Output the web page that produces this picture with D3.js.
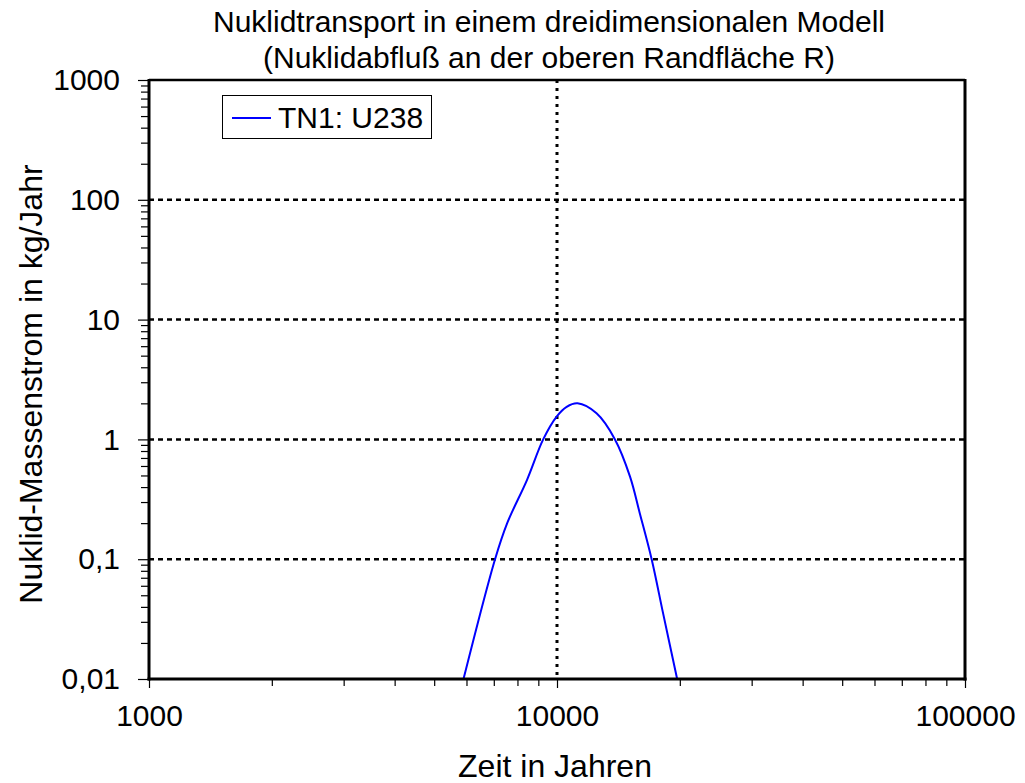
<!DOCTYPE html>
<html>
<head>
<meta charset="utf-8">
<script src="https://cdn.jsdelivr.net/npm/d3@7"></script>
<style>
  html, body { margin: 0; padding: 0; background: #fff; }
  svg { display: block; font-family: "Liberation Sans", Arial, sans-serif; }
</style>
</head>
<body>
<svg id="chart" width="1025" height="783"></svg>
<script>
// Data
const years  = [5900, 7050, 7550, 8440, 9250, 9980, 10560, 11230, 12500, 13870, 15100, 15960, 17060, 18200, 19700];
const values = [0.01, 0.1, 0.2, 0.458, 1.0, 1.55, 1.87, 2.0, 1.65, 1.0, 0.489, 0.241, 0.1, 0.0353, 0.01];
const seriesName = "TN1: U238";
const xTickValues = [1000, 10000, 100000];
const xTickLabels = ["1000", "10000", "100000"];
const yTickValues = [0.01, 0.1, 1, 10, 100, 1000];
const yTickLabels = ["0,01", "0,1", "1", "10", "100", "1000"];
const titleLines = ["Nuklidtransport in einem dreidimensionalen Modell", "(Nuklidabfluß an der oberen Randfläche R)"];
const xTitle = "Zeit in Jahren";
const yTitle = "Nuklid-Massenstrom in kg/Jahr";

const L = 149, R = 965, T = 80, B = 679;
const svg = d3.select("#chart");
const x = d3.scaleLog().domain([1000, 100000]).range([L, R]);
const y = d3.scaleLog().domain([0.01, 1000]).range([B, T]);

// minor ticks
const xMinor = [], yMinor = [];
for (let d = 1000; d < 100000; d *= 10) for (let k = 2; k <= 9; k++) xMinor.push(d * k);
for (let d = 0.01; d < 999; d *= 10) for (let k = 2; k <= 9; k++) yMinor.push(+(d * k).toPrecision(3));

// grid
const grid = svg.append("g");
grid.selectAll("line.h").data(yTickValues.filter(v => v > 0.01 && v < 1000)).join("line")
  .attr("x1", L).attr("x2", R).attr("y1", d => y(d)).attr("y2", d => y(d))
  .attr("stroke", "#000").attr("stroke-width", 2.5).attr("stroke-dasharray", "5,4");
grid.selectAll("line.v").data(xTickValues.filter(v => v > 1000 && v < 100000)).join("line")
  .attr("x1", d => x(d)).attr("x2", d => x(d)).attr("y1", T).attr("y2", B)
  .attr("stroke", "#000").attr("stroke-width", 3).attr("stroke-dasharray", "3,5");

// clip + curve
svg.append("clipPath").attr("id", "clip").append("rect").attr("x", L).attr("y", T).attr("width", R - L).attr("height", B - T);
const pts = years.map((yr, i) => [yr, values[i]]);
const line = d3.line().x(d => x(d[0])).y(d => y(d[1])).curve(d3.curveCatmullRom.alpha(0.5));
svg.append("path").datum(pts).attr("d", line).attr("fill", "none")
  .attr("stroke", "#0000ff").attr("stroke-width", 2).attr("clip-path", "url(#clip)");

// ticks
const xAxis = d3.axisBottom(x).tickValues(xTickValues).tickFormat((d, i) => xTickLabels[i]).tickSize(9).tickPadding(17);
const gx = svg.append("g").attr("transform", `translate(0,${B})`).call(xAxis);
gx.select(".domain").remove();
gx.selectAll("line").attr("stroke", "#000").attr("stroke-width", 1.2);
gx.selectAll("text").attr("font-size", 30).attr("fill", "#000").attr("font-family", "Liberation Sans, Arial, sans-serif");
const gxm = svg.append("g").attr("transform", `translate(0,${B})`)
  .call(d3.axisBottom(x).tickValues(xMinor).tickSize(7).tickFormat(""));
gxm.select(".domain").remove();
gxm.selectAll("line").attr("stroke", "#000").attr("stroke-width", 1.2);

const yAxis = d3.axisLeft(y).tickValues(yTickValues).tickFormat((d, i) => yTickLabels[i]).tickSize(11).tickPadding(18);
const gy = svg.append("g").attr("transform", `translate(${L},0)`).call(yAxis);
gy.select(".domain").remove();
gy.selectAll("line").attr("stroke", "#000").attr("stroke-width", 1.2);
gy.selectAll("text").attr("font-size", 30).attr("fill", "#000").attr("font-family", "Liberation Sans, Arial, sans-serif");
const gym = svg.append("g").attr("transform", `translate(${L},0)`)
  .call(d3.axisLeft(y).tickValues(yMinor).tickSize(8).tickFormat(""));
gym.select(".domain").remove();
gym.selectAll("line").attr("stroke", "#000").attr("stroke-width", 1.2);

// frame
svg.append("line").attr("x1", L).attr("x2", R).attr("y1", T).attr("y2", T).attr("stroke", "#000").attr("stroke-width", 2.5);
svg.append("line").attr("x1", L - 1.5).attr("x2", R + 1.5).attr("y1", B).attr("y2", B).attr("stroke", "#000").attr("stroke-width", 3);
svg.append("line").attr("x1", L).attr("x2", L).attr("y1", T - 1).attr("y2", B + 1.5).attr("stroke", "#000").attr("stroke-width", 3);
svg.append("line").attr("x1", R).attr("x2", R).attr("y1", T - 1).attr("y2", B + 1.5).attr("stroke", "#000").attr("stroke-width", 3);

// legend
const lg = svg.append("g");
lg.append("rect").attr("x", 222.5).attr("y", 95.5).attr("width", 209).attr("height", 43)
  .attr("fill", "#fff").attr("stroke", "#000").attr("stroke-width", 1);
lg.append("line").attr("x1", 232).attr("x2", 271).attr("y1", 118).attr("y2", 118).attr("stroke", "#0000ff").attr("stroke-width", 2);
lg.append("text").attr("x", 278).attr("y", 128).attr("font-size", 30).text(seriesName);

// titles
svg.append("g").selectAll("text").data(titleLines).join("text")
  .attr("x", 549).attr("y", (d, i) => 32 + i * 36).attr("text-anchor", "middle").attr("font-size", 30).text(d => d);
svg.append("text").attr("x", 555).attr("y", 777).attr("text-anchor", "middle").attr("font-size", 32).text(xTitle);
svg.append("text").attr("transform", "translate(42,384) rotate(-90)").attr("text-anchor", "middle").attr("font-size", 32).text(yTitle);
</script>
</body>
</html>
